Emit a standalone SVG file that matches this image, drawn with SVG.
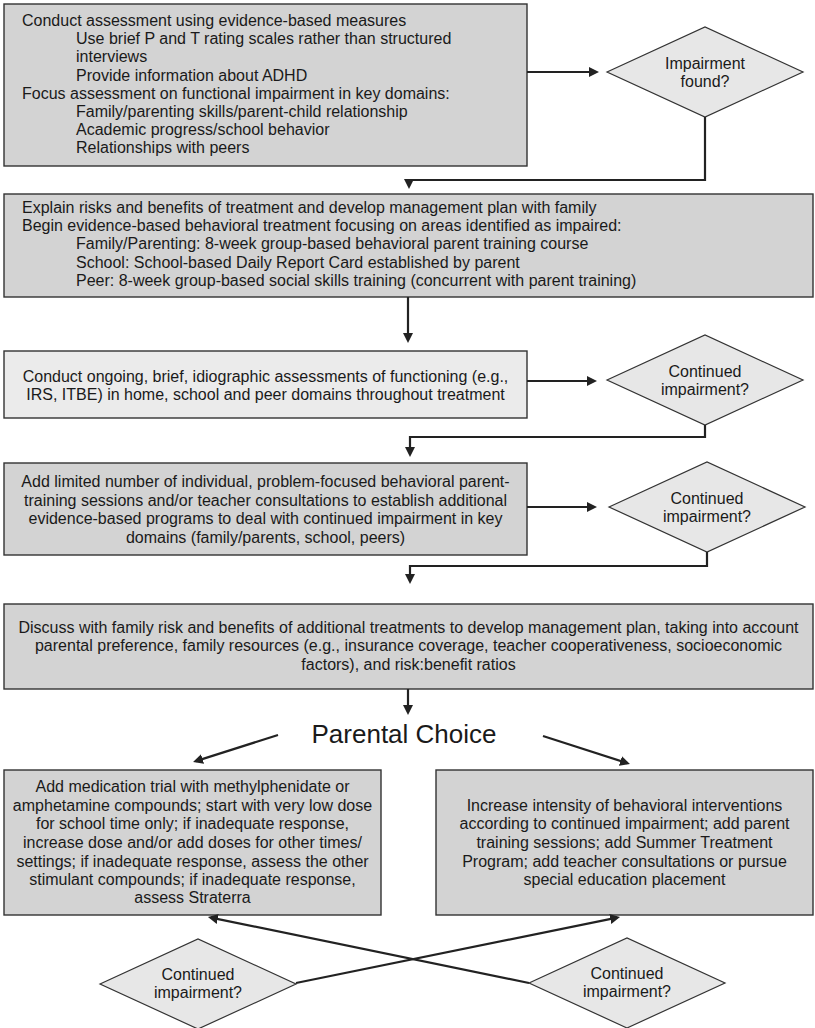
<svg xmlns="http://www.w3.org/2000/svg" width="815" height="1028" viewBox="0 0 815 1028">
<style>
.box{fill:#d3d3d3;stroke:#333;stroke-width:1.4}
.light{fill:#ebebeb}
.dia{fill:#e7e7e7;stroke:#333;stroke-width:1.2}
text{font-family:"Liberation Sans",Arial,sans-serif;font-size:16px;fill:#1a1a1a}
.c{text-anchor:middle}
.big{font-size:26px}
.con{fill:none;stroke:#222;stroke-width:2.2}
</style>
<defs>
<marker id="ah" viewBox="0 0 10 10" refX="7" refY="5" markerWidth="10" markerHeight="10" markerUnits="userSpaceOnUse" orient="auto">
<path d="M0,0 L10,5 L0,10 z" fill="#222"/>
</marker>
</defs>
<rect width="815" height="1028" fill="#fff"/>

<g id="box1">
<rect class="box" x="4" y="4" width="523" height="162"/>
<text x="22" y="26">Conduct assessment using evidence-based measures</text>
<text x="76" y="44">Use brief P and T rating scales rather than structured</text>
<text x="76" y="62">interviews</text>
<text x="76" y="80.6">Provide information about ADHD</text>
<text x="22" y="98.8">Focus assessment on functional impairment in key domains:</text>
<text x="76" y="117">Family/parenting skills/parent-child relationship</text>
<text x="76" y="135.2">Academic progress/school behavior</text>
<text x="76" y="153.4">Relationships with peers</text>
</g>

<g id="d1">
<polygon class="dia" points="607,72 705,27 803,72 705,117"/>
<text class="c" x="705" y="69">Impairment</text>
<text class="c" x="705" y="87">found?</text>
</g>

<g id="box2">
<rect class="box" x="4" y="194" width="809" height="103"/>
<text x="22" y="213">Explain risks and benefits of treatment and develop management plan with family</text>
<text x="22" y="231">Begin evidence-based behavioral treatment focusing on areas identified as impaired:</text>
<text x="76" y="249">Family/Parenting: 8-week group-based behavioral parent training course</text>
<text x="76" y="268">School: School-based Daily Report Card established by parent</text>
<text x="76" y="286">Peer: 8-week group-based social skills training (concurrent with parent training)</text>
</g>

<g id="box3">
<rect class="box light" x="4" y="351" width="523" height="67"/>
<text class="c" x="265.5" y="382">Conduct ongoing, brief, idiographic assessments of functioning (e.g.,</text>
<text class="c" x="265.5" y="400">IRS, ITBE) in home, school and peer domains throughout treatment</text>
</g>

<g id="d2">
<polygon class="dia" points="607,380 705,335 803,380 705,425"/>
<text class="c" x="705" y="377">Continued</text>
<text class="c" x="705" y="395">impairment?</text>
</g>

<g id="box4">
<rect class="box" x="4" y="463" width="523" height="92"/>
<text class="c" x="265.5" y="487">Add limited number of individual, problem-focused behavioral parent-</text>
<text class="c" x="265.5" y="506">training sessions and/or teacher consultations to establish additional</text>
<text class="c" x="265.5" y="524">evidence-based programs to deal with continued impairment in key</text>
<text class="c" x="265.5" y="543">domains (family/parents, school, peers)</text>
</g>

<g id="d3">
<polygon class="dia" points="609,507 707,462 805,507 707,552"/>
<text class="c" x="707" y="504">Continued</text>
<text class="c" x="707" y="522">impairment?</text>
</g>

<g id="box5">
<rect class="box" x="4" y="604" width="809" height="85"/>
<text class="c" x="408.5" y="633">Discuss with family risk and benefits of additional treatments to develop management plan, taking into account</text>
<text class="c" x="408.5" y="651">parental preference, family resources (e.g., insurance coverage, teacher cooperativeness, socioeconomic</text>
<text class="c" x="408.5" y="670">factors), and risk:benefit ratios</text>
</g>

<g id="choice">
<text class="c big" x="404" y="743">Parental Choice</text>
</g>

<g id="box6">
<rect class="box" x="4" y="770" width="377" height="145"/>
<text class="c" x="192.5" y="792">Add medication trial with methylphenidate or</text>
<text class="c" x="192.5" y="811">amphetamine compounds; start with very low dose</text>
<text class="c" x="192.5" y="829">for school time only; if inadequate response,</text>
<text class="c" x="192.5" y="848">increase dose and/or add doses for other times/</text>
<text class="c" x="192.5" y="867">settings; if inadequate response, assess the other</text>
<text class="c" x="192.5" y="885">stimulant compounds; if inadequate response,</text>
<text class="c" x="192.5" y="903">assess Straterra</text>
</g>

<g id="box7">
<rect class="box" x="436" y="770" width="377" height="145"/>
<text class="c" x="624.5" y="811">Increase intensity of behavioral interventions</text>
<text class="c" x="624.5" y="829">according to continued impairment; add parent</text>
<text class="c" x="624.5" y="848">training sessions; add Summer Treatment</text>
<text class="c" x="624.5" y="867">Program; add teacher consultations or pursue</text>
<text class="c" x="624.5" y="885">special education placement</text>
</g>

<g id="d4">
<polygon class="dia" points="100,984 198,939 296,984 198,1029"/>
<text class="c" x="198" y="980">Continued</text>
<text class="c" x="198" y="998">impairment?</text>
</g>

<g id="d5">
<polygon class="dia" points="529,983 627,938 725,983 627,1028"/>
<text class="c" x="627" y="979">Continued</text>
<text class="c" x="627" y="997">impairment?</text>
</g>

<g id="connectors">
<path class="con" marker-end="url(#ah)" d="M527,72 H596"/>
<path class="con" marker-end="url(#ah)" d="M705,117 V180 H409 V186"/>
<path class="con" marker-end="url(#ah)" d="M408,297 V340"/>
<path class="con" marker-end="url(#ah)" d="M527,381 H594"/>
<path class="con" marker-end="url(#ah)" d="M705,425 V437 H410 V454"/>
<path class="con" marker-end="url(#ah)" d="M527,507 H594"/>
<path class="con" marker-end="url(#ah)" d="M707,552 V566 H410 V581"/>
<path class="con" marker-end="url(#ah)" d="M408,689 V712"/>
<path class="con" marker-end="url(#ah)" d="M278,735 L195.9,761.1"/>
<path class="con" marker-end="url(#ah)" d="M543,736 L627.1,763.1"/>
<path class="con" marker-end="url(#ah)" d="M296,983 L617.1,917.6"/>
<path class="con" marker-end="url(#ah)" d="M529,983 L210.9,917.6"/>
</g>
</svg>
